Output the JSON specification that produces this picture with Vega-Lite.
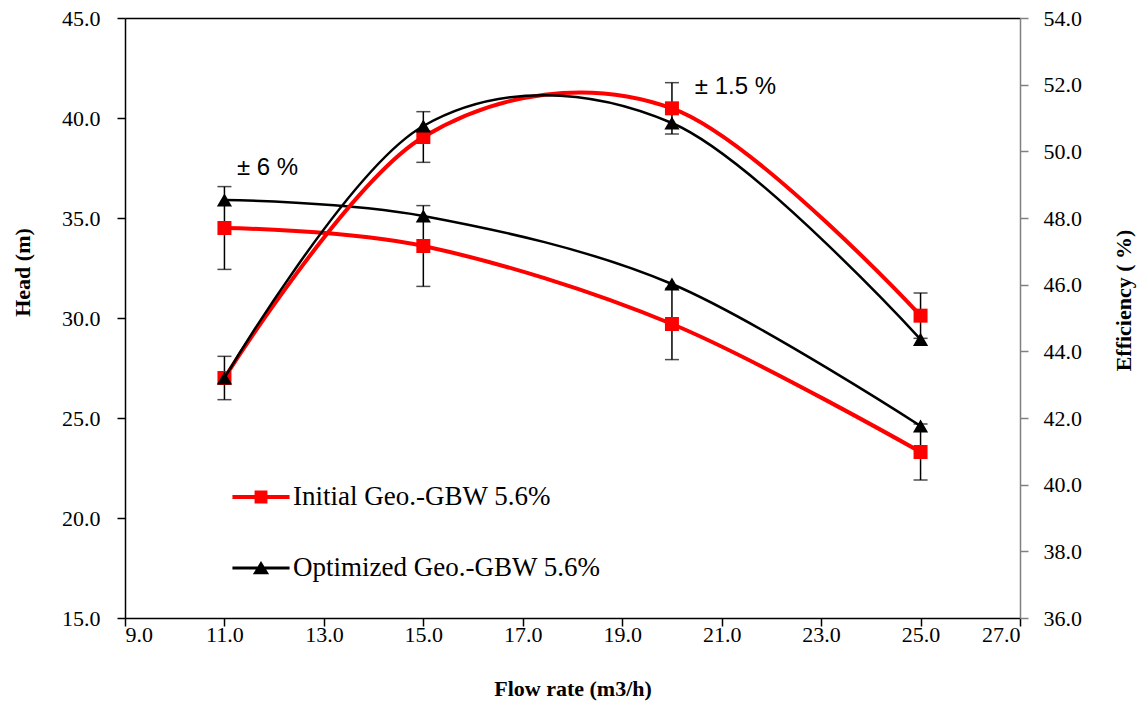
{
  "$schema": "https://vega.github.io/schema/vega-lite/v6.json",
  "width": 895,
  "height": 600,
  "autosize": {"type": "none"},
  "padding": {"left": 125, "top": 18, "right": 119, "bottom": 90},
  "background": "white",
  "config": {
    "view": {"stroke": null},
    "axis": {
      "grid": false,
      "labelFont": "Liberation Serif",
      "labelFontSize": 22,
      "labelColor": "black",
      "titleFont": "Liberation Serif",
      "titleFontSize": 22,
      "titleFontWeight": "bold",
      "titleColor": "black",
      "domainColor": "black",
      "domainWidth": 1.5,
      "tickColor": "black",
      "tickWidth": 1.5,
      "tickSize": 8
    },
    "legend": {
      "orient": "none",
      "legendX": 122,
      "legendY": 465,
      "title": null,
      "padding": 0,
      "labelFont": "Liberation Serif",
      "labelFontSize": 27,
      "labelColor": "black",
      "labelLimit": 0,
      "labelOffset": 18,
      "rowPadding": 44,
      "symbolSize": 784,
      "symbolStrokeWidth": 0,
      "symbolOpacity": 1
    }
  },
  "datasets": {
    "pts": [
      {"flow": 11, "series": "Initial Geo.-GBW 5.6%", "head": 34.5, "head_lo": 32.43, "head_hi": 36.57, "eff": 43.2, "eff_lo": 42.55, "eff_hi": 43.85},
      {"flow": 15, "series": "Initial Geo.-GBW 5.6%", "head": 33.6, "head_lo": 31.58, "head_hi": 35.62, "eff": 50.43, "eff_lo": 49.67, "eff_hi": 51.19},
      {"flow": 20, "series": "Initial Geo.-GBW 5.6%", "head": 29.7, "head_lo": 27.92, "head_hi": 31.48, "eff": 51.29, "eff_lo": 50.52, "eff_hi": 52.06},
      {"flow": 25, "series": "Initial Geo.-GBW 5.6%", "head": 23.3, "head_lo": 21.9, "head_hi": 24.7, "eff": 45.07, "eff_lo": 44.39, "eff_hi": 45.75},
      {"flow": 11, "series": "Optimized Geo.-GBW 5.6%", "head": 35.9, "eff": 43.2},
      {"flow": 15, "series": "Optimized Geo.-GBW 5.6%", "head": 35.1, "eff": 50.76},
      {"flow": 20, "series": "Optimized Geo.-GBW 5.6%", "head": 31.7, "eff": 50.85},
      {"flow": 25, "series": "Optimized Geo.-GBW 5.6%", "head": 24.6, "eff": 44.36}
    ],
    "notes": [
      {"flow": 11.25, "head": 37.5, "label": "± 6 %"},
      {"flow": 20.46, "head": 41.55, "label": "± 1.5 %"}
    ]
  },
  "layer": [
    {
      "data": {"name": "pts"},
      "encoding": {
        "x": {
          "field": "flow",
          "type": "quantitative",
          "scale": {"domain": [9, 27], "nice": false, "zero": false},
          "axis": {
            "values": [9, 11, 13, 15, 17, 19, 21, 23, 25, 27],
            "format": ".1f",
            "title": "Flow rate (m3/h)",
            "labelPadding": -2,
            "titlePadding": 33
          }
        },
        "y": {
          "field": "head",
          "type": "quantitative",
          "title": "Head (m)",
          "scale": {"domain": [15, 45], "nice": false, "zero": false},
          "axis": {
            "values": [15, 20, 25, 30, 35, 40, 45],
            "format": ".1f",
            "labelPadding": 17,
            "titleAngle": 270,
            "titleX": -103,
            "titleY": 254,
            "titleAlign": "center",
            "titleBaseline": "middle"
          }
        }
      },
      "layer": [
        {
          "transform": [{"filter": "datum.series == 'Initial Geo.-GBW 5.6%'"}],
          "mark": {"type": "rule", "color": "black", "strokeWidth": 1.5},
          "encoding": {
            "y": {"field": "head_lo", "type": "quantitative", "title": "Head (m)"},
            "y2": {"field": "head_hi"}
          }
        },
        {
          "transform": [{"filter": "datum.series == 'Initial Geo.-GBW 5.6%'"}],
          "mark": {"type": "tick", "orient": "horizontal", "color": "black", "size": 14, "thickness": 1.5},
          "encoding": {"y": {"field": "head_lo", "type": "quantitative", "title": "Head (m)"}}
        },
        {
          "transform": [{"filter": "datum.series == 'Initial Geo.-GBW 5.6%'"}],
          "mark": {"type": "tick", "orient": "horizontal", "color": "black", "size": 14, "thickness": 1.5},
          "encoding": {"y": {"field": "head_hi", "type": "quantitative", "title": "Head (m)"}}
        },
        {
          "transform": [{"filter": "datum.series == 'Initial Geo.-GBW 5.6%'"}],
          "mark": {"type": "line", "interpolate": "cardinal", "color": "#ff0000", "strokeWidth": 4}
        },
        {
          "transform": [{"filter": "datum.series == 'Initial Geo.-GBW 5.6%'"}],
          "mark": {"type": "point", "shape": "square", "filled": true, "color": "#ff0000", "size": 196, "opacity": 1}
        },
        {
          "transform": [{"filter": "datum.series == 'Optimized Geo.-GBW 5.6%'"}],
          "mark": {"type": "line", "interpolate": "cardinal", "color": "black", "strokeWidth": 2.5}
        },
        {
          "transform": [{"filter": "datum.series == 'Optimized Geo.-GBW 5.6%'"}],
          "mark": {"type": "point", "shape": "triangle-up", "filled": true, "color": "black", "size": 230, "opacity": 1}
        },
        {
          "transform": [{"filter": "false"}],
          "mark": {"type": "point", "filled": true, "opacity": 1, "size": 784},
          "encoding": {
            "color": {
              "field": "series",
              "type": "nominal",
              "scale": {"domain": ["Initial Geo.-GBW 5.6%", "Optimized Geo.-GBW 5.6%"], "range": ["#ff0000", "black"]}
            },
            "shape": {
              "field": "series",
              "type": "nominal",
              "scale": {
                "domain": ["Initial Geo.-GBW 5.6%", "Optimized Geo.-GBW 5.6%"],
                "range": [
                  "M-2.04,-0.143H2.04V0.143H-2.04Z M-0.46,-0.46H0.46V0.46H-0.46Z",
                  "M-2.04,-0.1H2.04V0.1H-2.04Z M0,-0.5L0.58,0.45H-0.58Z"
                ]
              }
            }
          }
        },
        {
          "data": {"name": "notes"},
          "mark": {"type": "text", "align": "left", "baseline": "middle", "font": "Liberation Sans", "fontSize": 24, "color": "black"},
          "encoding": {"text": {"field": "label"}}
        }
      ]
    },
    {
      "data": {"name": "pts"},
      "encoding": {
        "x": {
          "field": "flow",
          "type": "quantitative",
          "scale": {"domain": [9, 27], "nice": false, "zero": false},
          "axis": {"orient": "top", "labels": false, "ticks": false, "title": null, "domainColor": "black", "domainWidth": 1.5}
        },
        "y": {
          "field": "eff",
          "type": "quantitative",
          "title": "Efficiency ( %)",
          "scale": {"domain": [36, 54], "nice": false, "zero": false},
          "axis": {
            "orient": "right",
            "values": [36, 38, 40, 42, 44, 46, 48, 50, 52, 54],
            "format": ".1f",
            "labelPadding": 15,
            "domainColor": "#808080",
            "tickColor": "#808080",
            "titleAngle": 270,
            "titleX": 103,
            "titleY": 282,
            "titleAlign": "center",
            "titleBaseline": "middle"
          }
        }
      },
      "layer": [
        {
          "transform": [{"filter": "datum.series == 'Initial Geo.-GBW 5.6%'"}],
          "mark": {"type": "rule", "color": "black", "strokeWidth": 1.5},
          "encoding": {
            "y": {"field": "eff_lo", "type": "quantitative", "title": "Efficiency ( %)"},
            "y2": {"field": "eff_hi"}
          }
        },
        {
          "transform": [{"filter": "datum.series == 'Initial Geo.-GBW 5.6%'"}],
          "mark": {"type": "tick", "orient": "horizontal", "color": "black", "size": 14, "thickness": 1.5},
          "encoding": {"y": {"field": "eff_lo", "type": "quantitative", "title": "Efficiency ( %)"}}
        },
        {
          "transform": [{"filter": "datum.series == 'Initial Geo.-GBW 5.6%'"}],
          "mark": {"type": "tick", "orient": "horizontal", "color": "black", "size": 14, "thickness": 1.5},
          "encoding": {"y": {"field": "eff_hi", "type": "quantitative", "title": "Efficiency ( %)"}}
        },
        {
          "transform": [{"filter": "datum.series == 'Initial Geo.-GBW 5.6%'"}],
          "mark": {"type": "line", "interpolate": "cardinal", "color": "#ff0000", "strokeWidth": 4}
        },
        {
          "transform": [{"filter": "datum.series == 'Initial Geo.-GBW 5.6%'"}],
          "mark": {"type": "point", "shape": "square", "filled": true, "color": "#ff0000", "size": 196, "opacity": 1}
        },
        {
          "transform": [{"filter": "datum.series == 'Optimized Geo.-GBW 5.6%'"}],
          "mark": {"type": "line", "interpolate": "cardinal", "color": "black", "strokeWidth": 2.5}
        },
        {
          "transform": [{"filter": "datum.series == 'Optimized Geo.-GBW 5.6%'"}],
          "mark": {"type": "point", "shape": "triangle-up", "filled": true, "color": "black", "size": 230, "opacity": 1}
        }
      ]
    }
  ],
  "resolve": {"scale": {"y": "independent"}, "axis": {"x": "independent"}}
}
